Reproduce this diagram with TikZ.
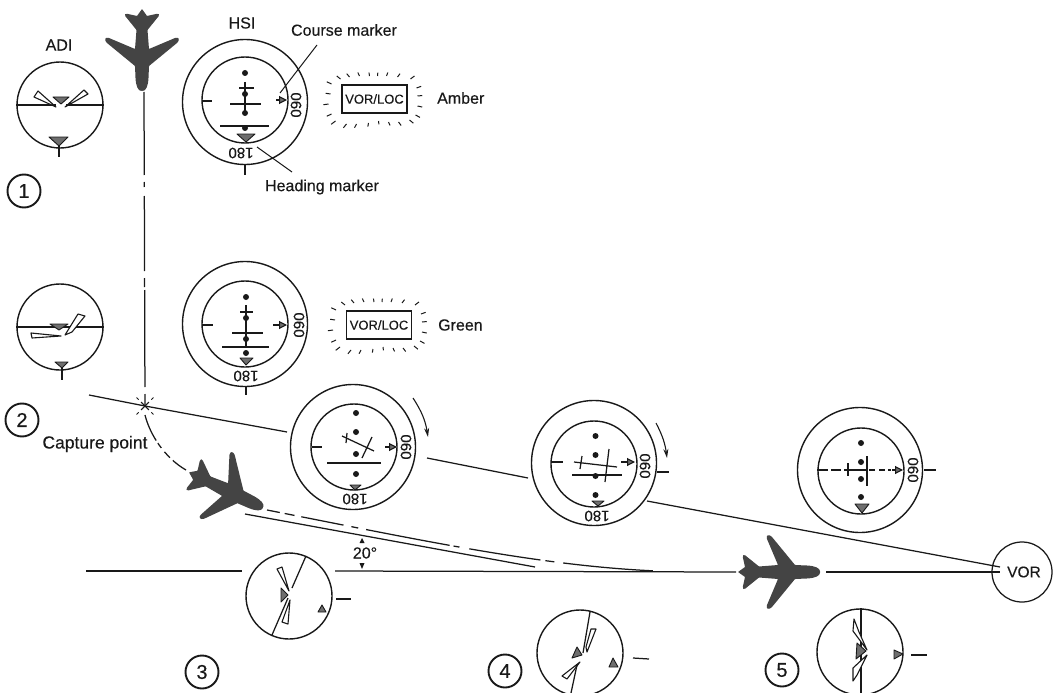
\documentclass[tikz,border=0pt]{standalone}
\usepackage{fontspec}
\setmainfont{Liberation Sans}[FakeBold=0.3]
\usepackage{tikz}
\usetikzlibrary{arrows.meta,shapes.geometric,calc}
\definecolor{planegray}{RGB}{68,68,68}
\definecolor{markgray}{RGB}{110,110,110}
\definecolor{inkblack}{RGB}{25,25,25}
\tikzset{
  lbl/.style={inner sep=0pt,font=\fontsize{16}{18}\selectfont,text=inkblack},
  scalelbl/.style={inner sep=0pt,font=\fontsize{15}{17}\selectfont,text=inkblack},
  ringnode/.style={circle,draw=inkblack,line width=1.4pt,inner sep=0pt,minimum size=125pt},
  dialnode/.style={circle,draw=inkblack,line width=1.4pt,inner sep=0pt,minimum size=86pt},
  numnode/.style={circle,draw=inkblack,line width=1.9pt,inner sep=0pt,minimum size=33pt,font=\fontsize{20}{22}\selectfont,text=inkblack},
  boxnode/.style={rectangle,draw=inkblack,line width=1.4pt,inner sep=0pt,minimum width=65pt,minimum height=28pt,font=\fontsize{13}{15}\selectfont,text=inkblack},
  ln/.style={draw=inkblack,line width=1.25pt},
  fineln/.style={draw=inkblack,line width=1pt},
  barfill/.style={draw=inkblack,line width=1.1pt,fill=white,line join=round},
  markfill/.style={draw=inkblack,line width=0.9pt,fill=markgray,line join=round},
  arr/.style={->,>={Stealth[length=9pt,width=5pt]},draw=inkblack,line width=1.1pt},
  ptr/.style={-{Triangle[length=8pt,width=8pt,fill=markgray]},draw=inkblack,line width=1.1pt},
  dotfill/.style={fill=inkblack,draw=none},
  plane/.pic={
    \fill[planegray,rounded corners=0.6pt]
      (41,0) .. controls (41,-4) and (36,-6) .. (28,-6.5) -- (16,-7) -- (-7,-35)
      .. controls (-10,-38) and (-13,-37) .. (-12,-33) -- (-1,-7) -- (-20,-5.5) -- (-33,-16)
      .. controls (-35,-18) and (-37,-17) .. (-36,-14) -- (-34,-5) -- (-41,0)
      -- (-34,5) -- (-36,14) .. controls (-37,17) and (-35,18) .. (-33,16) -- (-20,5.5) -- (-1,7)
      -- (-12,33) .. controls (-13,37) and (-10,38) .. (-7,35) -- (16,7) -- (28,6.5)
      .. controls (36,6) and (41,4) .. (41,0) -- cycle;
  },
  flash/.pic={
    \foreach \dx/\dy in {-34/-20,-25/-22,-15/-23,-5/-23,3/-23,12/-23,23/-22,36/-20,
                         42/-11,43/-3,43/7,41/16,35/21,24/23,14/23,4/22,-6/24,-18/25,-28/25,-39/22,
                         -43/15,-46/5,-44/-5,-43/-15}
      \draw[fineln] (\dx,\dy) -- ++(0.11*\dx,0.15*\dy);
  }
}
\begin{document}
\begin{tikzpicture}[x=1pt,y=-1pt]
  \useasboundingbox (0,0) rectangle (1058,693);
  % ground track
  \coordinate (vertup) at (144,92);
  \coordinate (capt) at (145,406);
  \coordinate (captw) at (89,395);
  \coordinate (rhsic) at (287,432);
  \coordinate (lhsid) at (427,458);
  \coordinate (rhsid) at (528,478);
  \coordinate (lhsie) at (647,501);
  \coordinate (vorin) at (1000,567);
  \coordinate (horwest) at (86,571);
  \coordinate (horadi) at (242,571);
  \coordinate (horback) at (335,571);
  \coordinate (horplane) at (736,572);
  \coordinate (horfront) at (826,572);
  \coordinate (vorhor) at (1000,572);
  \draw[ln,dash pattern=on 83pt off 7pt on 5pt off 9pt on 75pt off 7pt on 9pt off 3pt on 97pt off 7pt on 13pt] (vertup) -- (capt);
  \draw[ln] (captw) -- (capt) -- (rhsic);
  \draw[ln] (lhsid) -- (rhsid);
  \draw[ln] (lhsie) -- (vorin);
  \draw[ln] (horwest) -- (horadi);
  \draw[ln] (horback) -- (horplane);
  \draw[ln] (horfront) -- (vorhor);
  \foreach \a in {45,135,225,315} {
    \draw[fineln] (capt)++(\a:5.5) -- ++(\a+180:11);
    \draw[fineln] (capt)++(\a:9) -- ++(\a:3);
  }
  \draw[ln,dash pattern=on 28pt off 3pt on 6pt off 5pt on 8pt off 4pt on 20pt] (145,415) .. controls (150,435) and (165,458) .. (186,470);
  % captured course
  \draw[ln] (245,514) -- (535,567);
  \draw[ln,dash pattern=on 13pt off 5pt on 10pt off 7pt on 43pt off 8pt on 7pt off 8pt on 85pt off 4pt on 6pt off 10pt on 72pt off 5pt on 9pt off 9pt on 90pt]
    (267,510) .. controls (420,540) and (540,566) .. (657,571);
  \node[lbl] (angle) at (365,553) {20°};
  \fill[inkblack] (362,538) -- (359.5,543) -- (364.5,543) -- cycle;
  \fill[inkblack] (362,569) -- (359.5,563) -- (364.5,563) -- cycle;
  % aircraft
  \pic[rotate=-90] at (142,50) {plane};
  \pic[rotate=-25.6] at (226,490) {plane};
  \pic at (779,572) {plane};
  % stage numbers
  \foreach \nm/\x/\y/\lab in {numa/24/191/1,numb/22/420/2,numc/202/672/3,numd/505/671/4,nume/782/670/5}
    \node[numnode] (\nm) at (\x,\y) {\lab};
  % adi 1
  \node[lbl] (aditxt) at (59,45) {ADI};
  \node[dialnode] (adia) at (60,105) {};
  \draw[ln] (adia.west) -- (56,105) (66,105) -- (adia.east);
  \draw[barfill] (38,91) -- (34,97) -- (56,107) -- cycle;
  \draw[barfill] (84,90) -- (88,94) -- (65,107) -- cycle;
  \draw[markfill] (53,97) -- (69,97) -- (61,104) -- cycle;
  \draw[markfill] (49,137) -- (68,137) -- (59,146) -- cycle;
  \draw[ln] (59,146) -- (59,157);
  % adi 2
  \node[dialnode] (adib) at (60,327) {};
  \draw[ln] (adib.west) -- (adib.east);
  \draw[barfill] (65,335) -- (78,314) -- (85,316) -- (72,332) -- cycle;
  \draw[barfill] (31,333) -- (32,338) -- (61,336) -- cycle;
  \draw[markfill] (50,324) -- (68,324) -- (59,330) -- cycle;
  \draw[markfill] (55,362) -- (68,362) -- (62,368) -- cycle;
  \draw[ln] (62,368) -- (62,380);
  % adi 3
  \node[dialnode] (adic) at (289,596) {};
  \draw[ln] (306,556) -- (292,588) (288,598) -- (272,635);
  \draw[barfill] (277,569) -- (282,567) -- (289,591) -- cycle;
  \draw[barfill] (282,622) -- (288,624) -- (290,600) -- cycle;
  \draw[markfill] (281,588) -- (281,602) -- (288,595) -- cycle;
  \draw[markfill] (322,605) -- (318,612) -- (326,612) -- cycle;
  \draw[ln] (336,599) -- (351,599);
  % adi 4
  \node[dialnode] (adid) at (580,653) {};
  \draw[ln] (590,612) -- (583,653) (577,665) -- (571,693);
  \draw[barfill] (586,647) -- (591,629) -- (596,629) -- (587,652) -- cycle;
  \draw[barfill] (580,662) -- (562,676) -- (567,679) -- cycle;
  \draw[markfill] (577,647) -- (572,658) -- (582,655) -- cycle;
  \draw[markfill] (613,658) -- (609,667) -- (618,667) -- cycle;
  \draw[ln] (633,658) -- (649,659);
  % adi 5
  \node[dialnode] (adie) at (860,652) {};
  \draw[ln] (861,608) -- (861,693);
  \draw[barfill] (867,650) -- (853,631) -- (854,619) -- (859,632) -- cycle;
  \draw[barfill] (867,655) -- (853,668) -- (853,681) -- (857,675) -- cycle;
  \draw[markfill] (857,643) -- (856,659) -- (866,651) -- cycle;
  \draw[markfill] (894,650) -- (894,659) -- (903,654) -- cycle;
  \draw[ln] (911,655) -- (927,655);
  % hsi 1
  \node[lbl] (hsitxt) at (242,23) {HSI};
  \node[ringnode] (hsiaout) at (245,102) {};
  \node[dialnode] (hsiain) at (245,100) {};
  \foreach \y in {73,94,113,128} \fill[dotfill] (245,\y) circle (3);
  \draw[ln] (239,88) -- (254,88) (245,82) -- (245,115) (230,104) -- (261,104);
  \draw[ln] (202,101) -- (212,101) (220,126) -- (269,126);
  \draw[ptr] (276,100) -- (287,100);
  \draw[markfill] (237,134) -- (255,134) -- (246,142) -- cycle;
  \node[scalelbl,rotate=180] (hsialow) at (241,153) {180};
  \node[scalelbl,rotate=-90] (hsiarig) at (296,105) {060};
  \draw[ln] (245,165) -- (245,175);
  \node[lbl] (coursetxt) at (344,30) {Course marker};
  \node[lbl] (headtxt) at (322,187) {Heading marker};
  \coordinate (coursept) at (280,93);
  \coordinate (coursetop) at (317,45);
  \coordinate (headpt) at (257,147);
  \coordinate (headend) at (292,172);
  \draw[fineln] (coursetop) -- (coursept);
  \draw[fineln] (headpt) -- (headend);
  \node[boxnode] (vora) at (374.5,99) {VOR/LOC};
  \pic at (vora) {flash};
  \node[lbl,anchor=west] (ambertxt) at (437,98) {Amber};
  % hsi 2
  \node[ringnode] (hsibout) at (245,324) {};
  \node[dialnode] (hsibin) at (245,324) {};
  \foreach \y in {297,318,339,353} \fill[dotfill] (246,\y) circle (3);
  \draw[ln] (240,312) -- (253,312) (246,305) -- (246,347) (232,333) -- (263,333);
  \draw[ln] (202,325) -- (213,325) (222,347) -- (269,347);
  \draw[ptr] (273,325) -- (287,325);
  \draw[markfill] (240,358) -- (253,358) -- (246,365) -- cycle;
  \node[scalelbl,rotate=180] (hsiblow) at (246,376) {180};
  \node[scalelbl,rotate=-90] (hsibrig) at (299,325) {060};
  \draw[ln] (246,386) -- (246,395);
  \node[boxnode] (vorb) at (379,325) {VOR/LOC};
  \pic at (vorb) {flash};
  \node[lbl,anchor=west] (greentxt) at (438,325) {Green};
  % hsi 3
  \node[ringnode] (hsicout) at (353,447) {};
  \node[dialnode] (hsicin) at (354,447) {};
  \foreach \y in {413,432,454,474} \fill[dotfill] (356,\y) circle (3);
  \draw[ln] (342,436) -- (374,451) (347,433) -- (346,443) (372,437) -- (362,458);
  \draw[ln] (327,463) -- (381,463) (312,447) -- (322,447);
  \draw[ptr] (385,447) -- (397,447);
  \draw[markfill] (350,485) -- (361,485) -- (355,490) -- cycle;
  \node[scalelbl,rotate=180] (hsiclow) at (355,499) {180};
  \node[scalelbl,rotate=-90] (hsicrig) at (406,447) {060};
  \draw[arr] (413,398) to[bend left=12] (428,437);
  % hsi 4
  \node[ringnode] (hsidout) at (594,463) {};
  \node[dialnode] (hsidin) at (594,464) {};
  \foreach \y in {436,455,476,495} \fill[dotfill] (595.5,\y) circle (3);
  \draw[ln] (574,462) -- (617,467) (582,456) -- (580,469) (609,449) -- (605,482);
  \draw[ln] (572,475) -- (622,475) (552,462) -- (563,462);
  \draw[ptr] (621,462) -- (635,462);
  \draw[markfill] (592,501) -- (604,501) -- (598,506) -- cycle;
  \node[scalelbl,rotate=180] (hsidlow) at (597,516) {180};
  \node[scalelbl,rotate=-90] (hsidrig) at (645,466) {060};
  \draw[ln] (657,472) -- (669,472);
  \draw[arr] (656,423) to[bend left=10] (667,458);
  % hsi 5
  \node[ringnode] (hsieout) at (860,470) {};
  \node[dialnode] (hsiein) at (861,471) {};
  \foreach \y in {443,462,479,497} \fill[dotfill] (861,\y) circle (3);
  \draw[ln,dash pattern=on 11pt off 3pt on 10pt off 3pt on 22pt off 3pt on 6pt off 4pt on 6pt off 3pt] (817,470) -- (891,470);
  \draw[ptr] (892,470) -- (903,470);
  \draw[ln] (848,463) -- (848,476) (867,456) -- (867,486);
  \draw[markfill] (855,504) -- (869,504) -- (862,513) -- cycle;
  \node[scalelbl,rotate=-90] (hsierig) at (913,470) {060};
  \draw[ln] (924,470) -- (936,470);
  % captions
  \node[lbl,font=\fontsize{17.5}{20}\selectfont] (capttxt) at (95,444) {Capture point};
  \node[circle,draw=inkblack,line width=1.25pt,inner sep=0pt,minimum size=60pt,font=\fontsize{15.5}{17}\selectfont,text=inkblack] (vorstn) at (1022,572) {\hspace*{4pt}VOR};
\end{tikzpicture}
\end{document}
